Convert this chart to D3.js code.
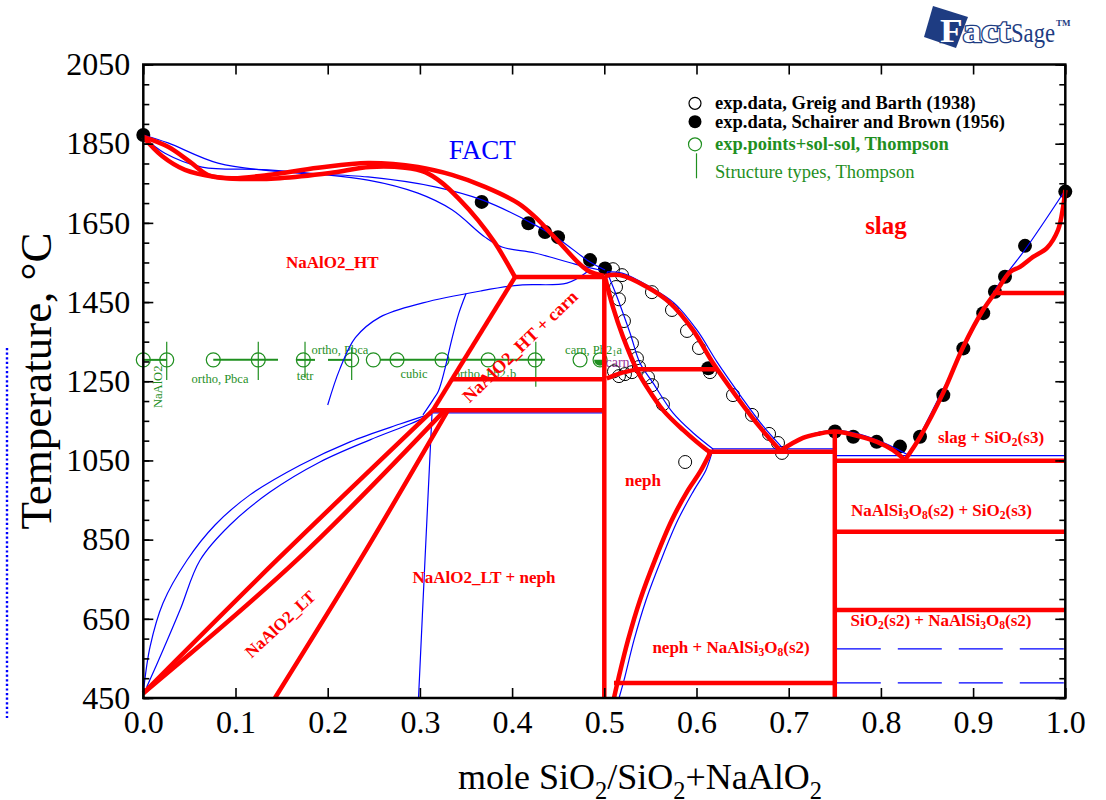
<!DOCTYPE html>
<html><head><meta charset="utf-8">
<script src="https://cdn.jsdelivr.net/npm/d3@7"></script>
<style>
html,body{margin:0;padding:0;background:#fff;}
svg{display:block;}
text{font-family:"Liberation Serif","Times New Roman",serif;}
</style></head><body>
<svg id="chart" width="1106" height="800"></svg>
<script>
// ---------- axes ----------
const xTickValues = [0,0.1,0.2,0.3,0.4,0.5,0.6,0.7,0.8,0.9,1.0];
const yTickValues = [450,650,850,1050,1250,1450,1650,1850,2050];
const yMinorValues = d3.range(450, 2051, 50);

// ---------- calculated phase boundaries, [mole fraction SiO2, T in °C] ----------
const redLiqLeft = [[0,1867],[0.0268,1842],[0.0507,1804],[0.0702,1771],[0.0962,1763],[0.1352,1771],[0.1895,1789],[0.2437,1801],[0.2979,1791],[0.3348,1771],[0.3706,1741],[0.4064,1700],[0.4249,1665],[0.4487,1607],[0.4812,1531],[0.5,1516]];
const redSolHT = [[0,1867],[0.0203,1819],[0.0452,1784],[0.0778,1766],[0.1049,1761],[0.1482,1763],[0.2025,1776],[0.2459,1791],[0.2839,1789],[0.3056,1778],[0.3240,1751],[0.3413,1713],[0.3630,1657],[0.3815,1599],[0.4032,1513]];
const redPeritectic = [[0.4032,1513],[0.5,1513]];
const redHTCarn = [[0.4032,1513],[0.3142,1177]];
const redCarn1255 = [[0.3345,1255],[0.5,1255]];
const redHT1177 = [[0.3142,1177],[0.5,1177]];
const redNephLine = [[0.5,1516],[0.5,450]];
const redNephSolidus = [[0.5008,1513],[0.5094,1437],[0.5203,1362],[0.5355,1278],[0.5463,1235],[0.5637,1177],[0.5854,1127],[0.6114,1076],[0.6147,1071]];
const redCarnNeph = [[0.5026,1257],[0.5170,1270],[0.5351,1280]];
const redCarn1280 = [[0.5351,1280],[0.6225,1280]];
const redNephLiq = [[0.5008,1516],[0.5170,1518],[0.5463,1488],[0.5712,1448],[0.5962,1379],[0.6179,1296],[0.6439,1210],[0.6688,1134],[0.6905,1076]];
const redEutNephAlb = [[0.6114,1072],[0.75,1072]];
const redAlbLiq = [[0.6905,1074],[0.7155,1107],[0.7339,1118],[0.7502,1123],[0.7697,1115],[0.7958,1097],[0.8131,1076],[0.8261,1051]];
const redSiO2Liq = [[0.8261,1051],[0.8424,1109],[0.8674,1220],[0.8891,1336],[0.9108,1430],[0.9260,1480],[0.9401,1526],[0.9509,1539],[0.9650,1564],[0.9802,1587],[0.9921,1632],[0.9976,1690],[1.0,1733]];
const redSiO2Trans = [[0.9216,1473],[1,1473]];
const redAlbLine = [[0.75,1123],[0.75,450]];
const redEutAlbSiO2 = [[0.75,1049],[1,1049]];
const redSiO2_870 = [[0.75,870],[1,870]];
const redSiO2_672 = [[0.75,672],[1,672]];
const redLow488 = [[0.5105,488],[0.75,488]];
const redSolvus = [[0.6147,1069],[0.6038,1021],[0.5908,975],[0.5734,900],[0.5550,799],[0.5387,697],[0.5257,596],[0.5149,495],[0.5105,450]];
const redLT1 = [[0,462],[0.1447,798],[0.3142,1177]];
const redLT2 = [[0,462],[0.1664,798],[0.3272,1177]];
const redLT3 = [[0.1428,450],[0.235,798],[0.3305,1177]];

// ---------- earlier assessment (thin blue) ----------
const blueLiqUpper = [[0,1872],[0.0268,1852],[0.0810,1801],[0.1537,1778],[0.2437,1766],[0.3164,1741],[0.3673,1708],[0.4248,1645],[0.4519,1607],[0.4845,1551],[0.5008,1531]];
const blueLiqLower = [[0,1867],[0.0235,1826],[0.0637,1791],[0.1352,1784],[0.2437,1758],[0.2979,1725],[0.3348,1683],[0.3706,1614],[0.3890,1589],[0.4248,1574],[0.4682,1546],[0.4953,1531]];
const blueHTCarnA = [[0.4812,1526],[0.4595,1498],[0.4086,1493],[0.3659,1478],[0.3033,1448],[0.2567,1412],[0.2300,1360],[0.2130,1280],[0.2000,1190]];
const blueHTCarnB = [[0.3500,1471],[0.3420,1420],[0.3340,1350],[0.3270,1280],[0.3200,1225],[0.3142,1203],[0.3033,1165]];
const blueLTa = [[0,463],[0.0073,579],[0.0214,690],[0.0474,798],[0.0778,887],[0.1157,963],[0.1700,1038],[0.2242,1097],[0.2784,1142],[0.3110,1167]];
const blueLTb = [[0.0037,478],[0.0214,571],[0.0398,672],[0.0615,798],[0.0940,887],[0.1374,970],[0.1916,1046],[0.2459,1102],[0.2893,1142],[0.3131,1167]];
const blueLTc = [[0.2985,450],[0.3055,798],[0.3131,1167]];
const blueHT1170 = [[0.3131,1170],[0.5,1170]];
const blueNephSolidus = [[0.5029,1526],[0.5138,1463],[0.5279,1372],[0.5387,1296],[0.5528,1246],[0.5745,1170],[0.5962,1120],[0.6179,1079]];
const blueSolvus = [[0.6179,1079],[0.6103,1026],[0.5973,975],[0.5799,900],[0.5615,798],[0.5452,697],[0.5322,596],[0.5214,495],[0.5160,450]];
const blueNephLiq = [[0.5029,1526],[0.5192,1523],[0.5496,1488],[0.5756,1448],[0.6006,1379],[0.6222,1299],[0.6482,1212],[0.6721,1137],[0.6927,1083]];
const blueEutNephAlb = [[0.6179,1079],[0.75,1079]];
const blueAlbLiq = [[0.6927,1081],[0.7176,1111],[0.7502,1126],[0.7773,1116],[0.8044,1093],[0.8317,1061]];
const blueEutAlbSiO2 = [[0.75,1062],[1,1062]];
const blueSiO2Liq = [[0.8317,1064],[0.8891,1329],[0.9216,1473],[0.9584,1589],[1.0,1733]];
const blueDashed574 = [[0.75,574],[1,574]];
const blueDashed488 = [[0.75,488],[1,488]];

// ---------- experimental data ----------
const greigBarth = [[0.5094,1533],[0.5192,1518],[0.5127,1488],[0.5159,1457],[0.5213,1402],[0.5300,1346],[0.5354,1308],[0.5376,1286],[0.5105,1275],[0.5159,1263],[0.5224,1268],[0.5300,1273],[0.5517,1475],[0.5734,1430],[0.5897,1377],[0.6027,1334],[0.6146,1273],[0.5474,1260],[0.5517,1240],[0.5636,1192],[0.6396,1215],[0.6602,1165],[0.6787,1117],[0.6884,1094],[0.6927,1069],[0.5877,1046]];
const schairerBrown = [[0,1872],[0.367,1703],[0.4176,1649],[0.4357,1627],[0.4498,1614],[0.4845,1556],[0.5008,1535],[0.6128,1283],[0.7502,1123],[0.770,1110],[0.7954,1097],[0.8207,1085],[0.8424,1110],[0.8677,1215],[0.8894,1333],[0.911,1422],[0.9237,1476],[0.9346,1514],[0.9563,1592],[1.0,1729]];
const thompsonT = 1304;
const thompsonX = [0,0.0254,0.0759,0.1247,0.1736,0.2260,0.2495,0.2752,0.3240,0.3740,0.4249,0.4737];
const thompsonCarnX = 0.4954;
const thompsonRanges = [[0,0.0254],[0.0759,0.1461],[0.1667,0.1862],[0.2003,0.2263],[0.2567,0.4356]];
const structureX = [0.0254,0.1247,0.1754,0.2260,0.4257];
const structureTop = [1350,1350,1350,1336,1350];
const structureBottom = [1253,1253,1258,1253,1236];

// ---------- text ----------
const phaseLabels = [
  {t:"NaAlO2_HT", x:0.205, T:1552, size:17, bold:true},
  {t:"slag", x:0.8055, T:1644, size:25, bold:true},
  {t:"slag + SiO_{2}(s3)", x:0.9194, T:1109, size:17, bold:true},
  {t:"NaAlSi_{3}O_{8}(s2) + SiO_{2}(s3)", x:0.8657, T:924, size:17, bold:true},
  {t:"SiO_{2}(s2) + NaAlSi_{3}O_{8}(s2)", x:0.8652, T:646, size:17, bold:true},
  {t:"neph", x:0.5419, T:1001, size:17, bold:true},
  {t:"neph + NaAlSi_{3}O_{8}(s2)", x:0.6375, T:578, size:17, bold:true},
  {t:"NaAlO2_LT + neph", x:0.3695, T:755, size:17, bold:true},
  {t:"NaAlO2_LT", x:0.1483, T:637, size:17, bold:true, rot:-43},
  {t:"NaAlO2_HT + carn", x:0.4086, T:1338, size:18, bold:true, rot:-44}
];
const structLabels = [
  {t:"ortho, Pbca", x:0.0832, T:1256},
  {t:"tetr", x:0.1754, T:1263},
  {t:"ortho, Pbca", x:0.2133, T:1329},
  {t:"cubic", x:0.2936, T:1268},
  {t:"ortho, Pb2_{1}b", x:0.3706, T:1268},
  {t:"carn, Pb2_{1}a", x:0.4884, T:1329}
];
const legendItems = ["exp.data, Greig and Barth (1938)","exp.data, Schairer and Brown (1956)","exp.points+sol-sol, Thompson","Structure types, Thompson"];
const xTitle = "mole SiO_{2}/SiO_{2}+NaAlO_{2}";
const yTitle = "Temperature, °C";

// ---------- drawing ----------
const svg = d3.select("#chart");
const X0 = 143.3, X1 = 1065.3, Y0 = 698, Y1 = 64.5;
const x = d3.scaleLinear().domain([0,1]).range([X0,X1]);
const y = d3.scaleLinear().domain([450,2050]).range([Y0,Y1]);
const RED = "#ff0000", BLUE = "#0000ff", GREEN = "#1f8f1f";

// text with _{..} subscripts
function richText(sel, str, size){
  const parts = str.split(/(_\{[^}]*\})/).filter(s=>s.length);
  let sub = false;
  parts.forEach(p=>{
    if (p.startsWith("_{")) {
      sel.append("tspan").attr("dy", size*0.28).attr("font-size", size*0.68).text(p.slice(2,-1));
      sub = true;
    } else {
      const ts = sel.append("tspan").text(p);
      if (sub) { ts.attr("dy", -size*0.28); sub = false; }
    }
  });
  return sel;
}

const line = d3.line().x(d=>x(d[0])).y(d=>y(d[1])).curve(d3.curveCatmullRom.alpha(0.5));

// stray dotted guide at the far left
svg.append("line").attr("x1",7).attr("x2",7).attr("y1",348).attr("y2",718)
  .attr("stroke",BLUE).attr("stroke-width",2.4).attr("stroke-dasharray","2.2,2.4");

// Thompson structure data (green)
const gG = svg.append("g");
thompsonRanges.forEach(r=>gG.append("line").attr("x1",x(r[0])).attr("x2",x(r[1])).attr("y1",y(thompsonT)).attr("y2",y(thompsonT)).attr("stroke",GREEN).attr("stroke-width",2));
structureX.forEach((sx,i)=>gG.append("line").attr("x1",x(sx)).attr("x2",x(sx)).attr("y1",y(structureTop[i])).attr("y2",y(structureBottom[i])).attr("stroke",GREEN).attr("stroke-width",1.2));
thompsonX.forEach(tx=>gG.append("circle").attr("cx",x(tx)).attr("cy",y(thompsonT)).attr("r",7).attr("fill","none").attr("stroke",GREEN).attr("stroke-width",1.2));
gG.append("circle").attr("cx",x(thompsonCarnX)).attr("cy",y(thompsonT)).attr("r",7).attr("fill","none").attr("stroke",GREEN).attr("stroke-width",1.2);
gG.append("path").attr("d", d3.arc()({innerRadius:0,outerRadius:6,startAngle:Math.PI/2,endAngle:Math.PI*1.5}))
  .attr("transform",`translate(${x(thompsonCarnX)},${y(thompsonT)})`).attr("fill",GREEN);
structLabels.forEach(l=>richText(gG.append("text").attr("x",x(l.x)).attr("y",y(l.T)).attr("text-anchor","middle")
  .attr("dominant-baseline","central").attr("font-size",12.5).attr("fill",GREEN), l.t, 12.5));
gG.append("text").attr("transform",`translate(${x(0.0160)},${y(1236)}) rotate(-90)`).attr("text-anchor","middle")
  .attr("dominant-baseline","central").attr("font-size",12.5).attr("fill",GREEN).text("NaAlO2");
svg.append("text").attr("x",x(0.5144)).attr("y",y(1298)).attr("text-anchor","middle").attr("dominant-baseline","central")
  .attr("font-size",14).attr("fill","#993399").text("carn");

// experimental points
const gP = svg.append("g");
greigBarth.forEach(d=>gP.append("circle").attr("cx",x(d[0])).attr("cy",y(d[1])).attr("r",6.5).attr("fill","none").attr("stroke","#000").attr("stroke-width",1));
schairerBrown.forEach(d=>gP.append("circle").attr("cx",x(d[0])).attr("cy",y(d[1])).attr("r",7).attr("fill","#000"));

// thin blue lines
const blueLines = [blueLiqUpper,blueLiqLower,blueHTCarnA,blueHTCarnB,blueLTa,blueLTb,blueLTc,blueHT1170,blueNephSolidus,blueSolvus,blueNephLiq,blueEutNephAlb,blueAlbLiq,blueEutAlbSiO2,blueSiO2Liq];
const gB = svg.append("g").attr("fill","none").attr("stroke",BLUE).attr("stroke-width",1.2);
blueLines.forEach(l=>gB.append("path").attr("d",line(l)));
[blueDashed574,blueDashed488].forEach(l=>gB.append("path").attr("d",line(l)).attr("stroke-dasharray","44,17").attr("stroke-dashoffset",-2));

// thick red lines
const redLines = [redLiqLeft,redSolHT,redPeritectic,redHTCarn,redCarn1255,redHT1177,redNephLine,redNephSolidus,redCarnNeph,redCarn1280,redNephLiq,redEutNephAlb,redAlbLiq,redSiO2Liq,redSiO2Trans,redAlbLine,redEutAlbSiO2,redSiO2_870,redSiO2_672,redLow488,redSolvus,redLT1,redLT2,redLT3];
const gR = svg.append("g").attr("fill","none").attr("stroke",RED).attr("stroke-width",4.5).attr("stroke-linejoin","round");
redLines.forEach(l=>gR.append("path").attr("d",line(l)));

// phase field labels
phaseLabels.forEach(l=>{
  const t = svg.append("text").attr("text-anchor","middle").attr("dominant-baseline","central")
    .attr("font-size",l.size).attr("font-weight",l.bold?"bold":"normal").attr("fill",RED)
    .attr("transform",`translate(${x(l.x)},${y(l.T)}) rotate(${l.rot||0})`);
  richText(t, l.t, l.size);
});
svg.append("text").attr("x",x(0.3675)).attr("y",y(1834)).attr("text-anchor","middle").attr("dominant-baseline","central")
  .attr("font-size",27).attr("fill",BLUE).text("FACT");

// frame and axes
svg.append("rect").attr("x",X0).attr("y",Y1).attr("width",X1-X0).attr("height",Y0-Y1)
  .attr("fill","none").attr("stroke","#000").attr("stroke-width",2.5);
const axStyle = g=>{ g.select(".domain").remove(); g.selectAll(".tick line").attr("stroke","#000").attr("stroke-width",1.6); };
svg.append("g").attr("transform",`translate(0,${Y0})`)
  .call(d3.axisBottom(x).tickValues(xTickValues).tickFormat(d3.format(".1f")).tickSizeInner(-10).tickSizeOuter(0).tickPadding(12))
  .call(axStyle).selectAll("text").attr("font-size",32).attr("font-family","Liberation Serif").attr("fill","#000");
svg.append("g").attr("transform",`translate(0,${Y1})`)
  .call(d3.axisTop(x).tickValues(xTickValues).tickFormat("").tickSizeInner(-10).tickSizeOuter(0)).call(axStyle);
svg.append("g").attr("transform",`translate(${X0},0)`)
  .call(d3.axisLeft(y).tickValues(yMinorValues).tickFormat("").tickSizeInner(-6).tickSizeOuter(0)).call(axStyle);
svg.append("g").attr("transform",`translate(${X0},0)`)
  .call(d3.axisLeft(y).tickValues(yTickValues).tickFormat(d3.format("d")).tickSizeInner(-10).tickSizeOuter(0).tickPadding(13))
  .call(axStyle).selectAll("text").attr("font-size",32).attr("font-family","Liberation Serif").attr("fill","#000");
svg.append("g").attr("transform",`translate(${X1},0)`)
  .call(d3.axisRight(y).tickValues(yMinorValues).tickFormat("").tickSizeInner(-6).tickSizeOuter(0)).call(axStyle);
svg.append("g").attr("transform",`translate(${X1},0)`)
  .call(d3.axisRight(y).tickValues(yTickValues).tickFormat("").tickSizeInner(-10).tickSizeOuter(0)).call(axStyle);

// axis titles
richText(svg.append("text").attr("x",640).attr("y",789).attr("text-anchor","middle").attr("font-size",36).attr("fill","#000"), xTitle, 36);
svg.append("text").attr("transform","translate(51,381) rotate(-90)").attr("text-anchor","middle")
  .attr("font-size",45).attr("fill","#000").text(yTitle);

// legend
const lg = svg.append("g");
const lx = 695, rows = [103.3,121.7,144.3,172.3];
lg.append("circle").attr("cx",lx).attr("cy",rows[0]).attr("r",6).attr("fill","none").attr("stroke","#000").attr("stroke-width",1.2);
lg.append("circle").attr("cx",lx).attr("cy",rows[1]).attr("r",6.5).attr("fill","#000");
lg.append("circle").attr("cx",lx).attr("cy",rows[2]).attr("r",6.5).attr("fill","none").attr("stroke",GREEN).attr("stroke-width",1.2);
lg.append("line").attr("x1",lx+1.5).attr("x2",lx+1.5).attr("y1",rows[3]-19).attr("y2",rows[3]+6).attr("stroke",GREEN).attr("stroke-width",1.2);
legendItems.forEach((t,i)=>lg.append("text").attr("x",715).attr("y",rows[i]).attr("dominant-baseline","central")
  .attr("font-size",18.5).attr("font-weight",i<3?"bold":"normal").attr("fill",i<2?"#000":GREEN).text(t));

// FactSage logo
const NAVY = "#1e3c82";
const logo = svg.append("g");
logo.append("polygon").attr("points","933,6 968,17 956,48 924,37").attr("fill",NAVY);
logo.append("text").attr("x",940).attr("y",42).attr("font-family","Liberation Sans").attr("font-weight","bold")
  .attr("font-size",33).attr("textLength",70).attr("lengthAdjust","spacingAndGlyphs")
  .attr("fill","#fff").attr("stroke",NAVY).attr("stroke-width",2.5).attr("paint-order","stroke").text("Fact");
logo.append("text").attr("x",1011).attr("y",42).attr("font-family","Liberation Sans")
  .attr("font-size",28).attr("textLength",44).attr("lengthAdjust","spacingAndGlyphs").attr("fill",NAVY).text("Sage");
logo.append("text").attr("x",1056).attr("y",26).attr("font-family","Liberation Sans").attr("font-weight","bold")
  .attr("font-size",9).attr("fill",NAVY).text("TM");
</script>
</body></html>
